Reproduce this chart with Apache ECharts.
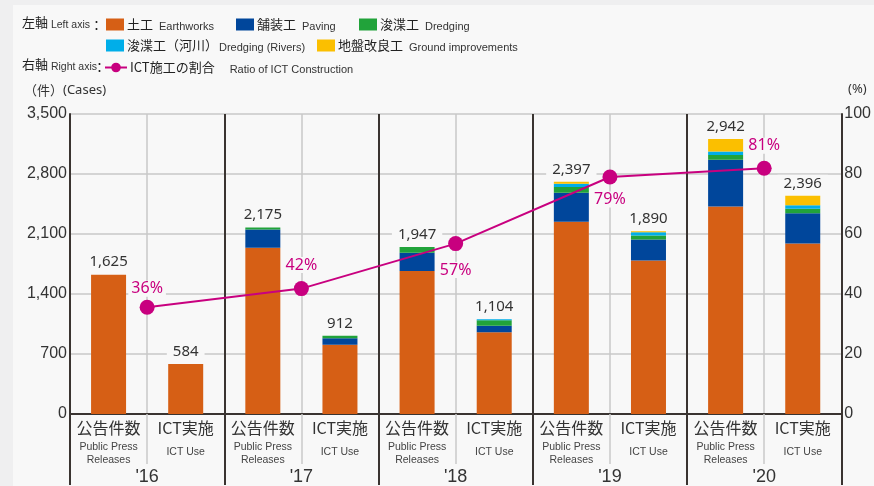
<!DOCTYPE html>
<html>
<head>
<meta charset="utf-8">
<script src="https://cdn.jsdelivr.net/npm/echarts@6/dist/echarts.min.js"></script>
<style>
  html, body { margin: 0; padding: 0; background: #f8f8f8; }
  #chart { width: 874px; height: 486px; }
</style>
</head>
<body>
<div id="chart"></div>
<script>
// categories: two bars per fiscal year
var categories = ['公告件数', 'ICT実施', '公告件数', 'ICT実施', '公告件数', 'ICT実施', '公告件数', 'ICT実施', '公告件数', 'ICT実施'];
var years = ["'16", "'17", "'18", "'19", "'20"];

// left axis (cases), stacked segments
var earthworks = [1625, 584, 1940, 807, 1668, 955, 2244, 1791, 2422, 1988];
var paving     = [0, 0, 212, 78, 214, 74, 337, 244, 543, 353];
var dredging   = [0, 0, 23, 27, 65, 64, 66, 47, 58, 54];
var rivers     = [0, 0, 0, 0, 0, 11, 39, 39, 39, 39];
var ground     = [0, 0, 0, 0, 0, 0, 23, 12, 147, 112];
// printed totals above each bar
var totals = [1625, 584, 2175, 912, 1947, 1104, 2397, 1890, 2942, 2396];

// right axis (%)
var ictRatio = [35.6, 41.8, 56.8, 79.0, 81.9];
var ictRatioText = ['36%', '42%', '57%', '79%', '81%'];

var leftTicks = [0, 700, 1400, 2100, 2800, 3500];
var rightTicks = [0, 20, 40, 60, 80, 100];

var NARROW = '"Liberation Sans", Arial, sans-serif';
var SANS = '"Noto Sans", sans-serif';
var CJK = '"Noto Sans CJK JP", sans-serif';
var DARK = '#3a3431';
var GRAY = '#c9c9c9';
var MAGENTA = '#c8007f';

function comma(n) {
    return String(n).replace(/\B(?=(\d{3})+(?!\d))/g, ',');
}

var names = [
    {ja: '土工', en: 'Earthworks', gap: 6, color: '#d65f15', data: earthworks},
    {ja: '舗装工', en: 'Paving', gap: 6, color: '#00469b', data: paving},
    {ja: '浚渫工', en: 'Dredging', gap: 6, color: '#21a33a', data: dredging},
    {ja: '浚渫工（河川）', en: 'Dredging (Rivers)', gap: 1, color: '#00aee9', data: rivers},
    {ja: '地盤改良工', en: 'Ground improvements', gap: 6, color: '#fbbf00', data: ground}
];
var lineName = {ja: 'ICT施工の割合', en: 'Ratio of ICT Construction', gap: 15};

// where each legend entry sits
var legendPos = [[106, 18], [236, 18], [359, 18], [106, 39], [317, 39], [104, 61]];

// mixed-size text: small latin part sits lower, like the print
function richJa(key) {
    var s = {fontFamily: CJK, fontSize: 13, lineHeight: 16, verticalAlign: 'middle'};
    s[key] = '#222';
    return s;
}
function richEn(key, gap, size) {
    var s = {fontFamily: NARROW, fontSize: size || 11, lineHeight: 12, verticalAlign: 'bottom', padding: [0, 0, 0, gap]};
    s[key] = '#333';
    return s;
}

function legendText(item) {
    return '{j|' + item.ja + '}{e|' + item.en + '}';
}

var series = names.map(function (n, i) {
    var s = {
        name: n.en,
        type: 'bar',
        stack: 'cases',
        xAxisIndex: 0,
        yAxisIndex: 0,
        barWidth: 35,
        itemStyle: {color: n.color},
        data: n.data
    };
    if (i === names.length - 1) {
        s.label = {
            show: true,
            position: 'top',
            distance: 4,
            fontFamily: SANS,
            fontSize: 15,
            color: '#333',
            backgroundColor: '#f8f8f8',
            padding: [1, 6],
            formatter: function (p) { return comma(totals[p.dataIndex]); }
        };
    }
    return s;
});

var labelPlace = [['top', 3], ['top', 8], ['bottom', 11], ['bottom', 7], ['top', 7]];
series.push({
    name: lineName.en,
    type: 'line',
    xAxisIndex: 1,
    yAxisIndex: 1,
    z: 5,
    symbol: 'circle',
    symbolSize: 15,
    lineStyle: {color: MAGENTA, width: 2},
    itemStyle: {color: MAGENTA},
    data: ictRatio.map(function (v, i) {
        return {
            value: v,
            label: {position: labelPlace[i][0], distance: labelPlace[i][1]}
        };
    }),
    label: {
        show: true,
        fontFamily: SANS,
        fontSize: 16,
        color: MAGENTA,
        backgroundColor: '#f8f8f8',
        padding: [0, 3],
        formatter: function (p) { return ictRatioText[p.dataIndex]; }
    }
});

var allItems = names.concat([lineName]);
var legends = allItems.map(function (item, i) {
    return {
        left: legendPos[i][0],
        top: legendPos[i][1],
        padding: 0,
        itemWidth: i === 5 ? 22 : 18,
        itemHeight: 12,
        itemGap: 0,
        selectedMode: false,
        icon: i === 5 ? undefined : 'rect',
        data: [i === 5 ? lineName.en : item.en],
        formatter: function () { return legendText(item); },
        textStyle: {
            padding: [0, 0, 0, -2],
            rich: {j: richJa('color'), e: richEn('color', item.gap)}
        }
    };
});

var option = {
    backgroundColor: '#f8f8f8',
    animation: false,
    legend: legends,
    grid: {left: 70, right: 32, top: 114, bottom: 71},
    graphic: [
        {type: 'rect', left: 0, top: 0, shape: {width: 13, height: 486}, style: {fill: '#efeff0'}, silent: true},
        {type: 'rect', left: 0, top: 0, shape: {width: 874, height: 5}, style: {fill: '#efeff0'}, silent: true},
        {
            type: 'text', left: 22, top: 16,
            style: {
                text: '{j|左軸}{e| Left axis}',
                rich: {j: richJa('fill'), e: richEn('fill', 0, 10.5)}
            }
        },
        {type: 'text', left: 90, top: 19, style: {text: '：', fontFamily: CJK, fontSize: 13, fill: '#222'}},
        {
            type: 'text', left: 22, top: 58,
            style: {
                text: '{j|右軸}{e| Right axis}',
                rich: {j: richJa('fill'), e: richEn('fill', 0, 10.5)}
            }
        },
        {type: 'text', left: 93, top: 61, style: {text: '：', fontFamily: CJK, fontSize: 13, fill: '#222'}},
        {
            type: 'text', left: 24, top: 84,
            style: {
                text: '{j|（件）}{e|(Cases)}',
                rich: {
                    j: {fontFamily: CJK, fontSize: 13, fill: '#333'},
                    e: {fontFamily: SANS, fontSize: 13, fill: '#333'}
                }
            }
        },
        {
            type: 'text', left: 848, top: 83,
            style: {text: '(%)', fontFamily: SANS, fontSize: 13, fill: '#333'}
        }
    ],
    xAxis: [
        {
            type: 'category',
            position: 'bottom',
            data: categories,
            axisLine: {show: true, lineStyle: {color: DARK, width: 2}},
            axisTick: {
                show: true,
                length: 50,
                interval: function (i) { return i % 2 === 1; },
                lineStyle: {color: GRAY, width: 1.5}
            },
            splitLine: {
                show: true,
                interval: function (i) { return i % 2 === 1; },
                lineStyle: {color: GRAY, width: 1.5}
            },
            axisLabel: {
                interval: 0,
                margin: 2,
                formatter: function (v, i) {
                    if (i % 2 === 0) {
                        return '{a|' + v + '}\n{b|Public Press}\n{b|Releases}';
                    }
                    return '{a|' + v + '}\n{c|ICT Use}';
                },
                rich: {
                    a: {fontFamily: CJK, fontSize: 16, color: '#333', lineHeight: 24},
                    b: {fontFamily: NARROW, fontSize: 10.5, color: '#444', lineHeight: 13.5},
                    c: {fontFamily: NARROW, fontSize: 10.5, color: '#444', lineHeight: 24}
                }
            }
        },
        {
            type: 'category',
            position: 'bottom',
            data: years,
            axisLine: {show: false},
            axisTick: {show: true, length: 71, lineStyle: {color: DARK, width: 2}},
            splitLine: {show: true, lineStyle: {color: DARK, width: 2}},
            axisLabel: {
                interval: 0,
                margin: 54,
                fontFamily: NARROW,
                fontSize: 18,
                color: '#333'
            }
        }
    ],
    yAxis: [
        {
            type: 'value',
            min: leftTicks[0],
            max: leftTicks[leftTicks.length - 1],
            interval: leftTicks[1] - leftTicks[0],
            axisLine: {show: true, lineStyle: {color: DARK, width: 2}},
            axisTick: {show: false},
            splitLine: {show: true, lineStyle: {color: GRAY, width: 1.5}},
            axisLabel: {
                margin: 3,
                fontFamily: NARROW,
                fontSize: 16,
                color: '#333',
                formatter: function (v) { return comma(v); }
            }
        },
        {
            type: 'value',
            position: 'right',
            min: rightTicks[0],
            max: rightTicks[rightTicks.length - 1],
            interval: rightTicks[1] - rightTicks[0],
            axisLine: {show: true, lineStyle: {color: DARK, width: 2}},
            axisTick: {show: false},
            splitLine: {show: false},
            axisLabel: {
                margin: 3,
                fontFamily: NARROW,
                fontSize: 16,
                color: '#333'
            }
        }
    ],
    series: series
};

var myChart = echarts.init(document.getElementById('chart'));
myChart.setOption(option);
</script>
</body>
</html>
